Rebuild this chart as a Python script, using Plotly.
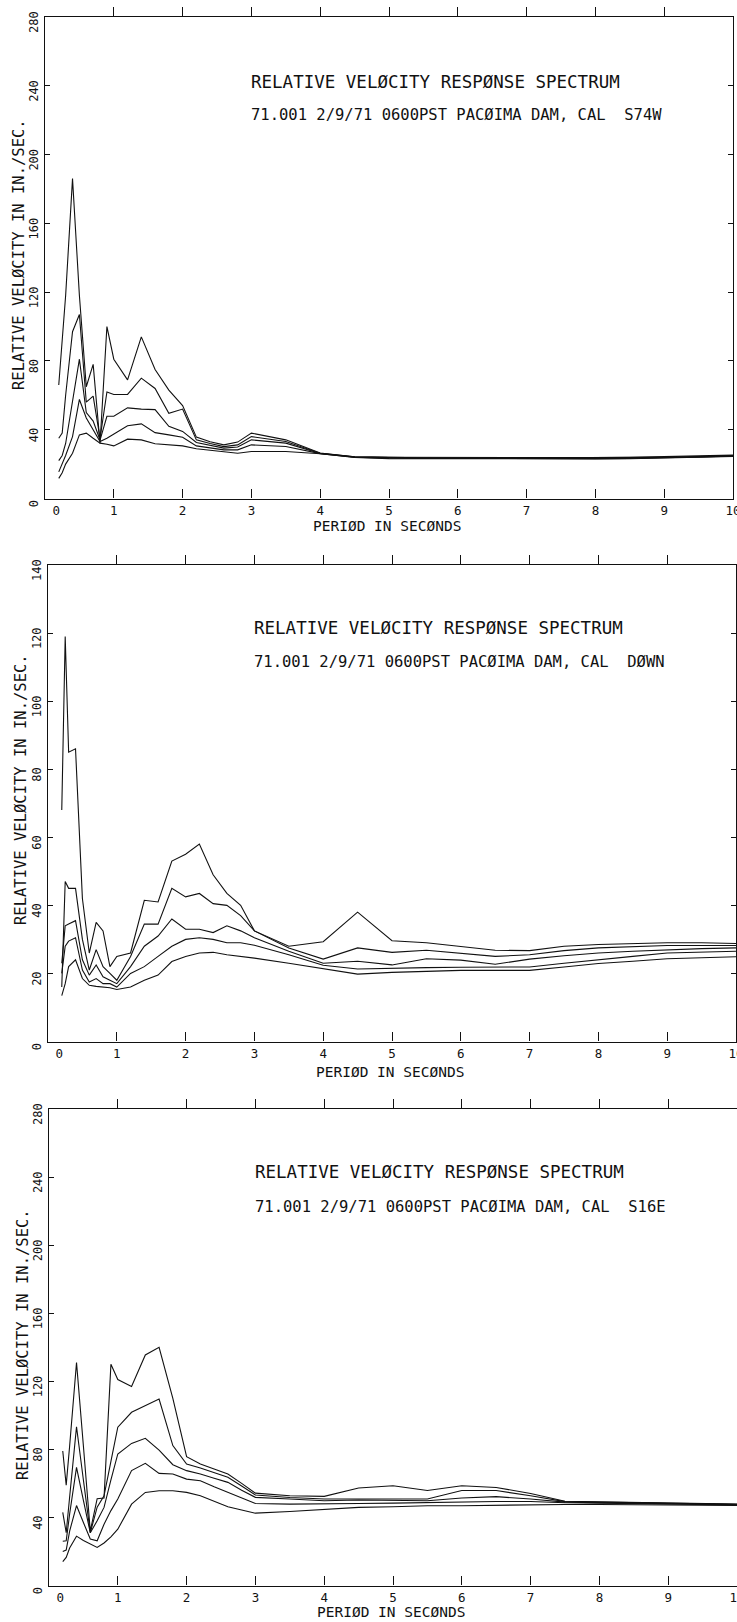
import plotly.graph_objects as go

W, H = 737, 1622

# Oscillator periods (s) shared by every curve
PERIODS = [0.2, 0.25, 0.3, 0.4, 0.5, 0.6, 0.7, 0.8, 0.9, 1.0, 1.2, 1.4, 1.6, 1.8, 2.0,
           2.2, 2.4, 2.6, 2.8, 3.0, 3.5, 4.0, 4.5, 5.0, 5.5, 6.0, 6.5, 7.0, 7.5, 8.0,
           8.5, 9.0, 9.5, 10.0]
DAMPING = ["0%", "2%", "5%", "10%", "20%"]
X_TICKS = list(range(0, 11))

# S74W component, relative velocity (in/sec)
S74W_0 = [66, 90, 118, 186, 118, 65, 78, 32, 100, 81, 69, 94, 75, 63, 54,
          35.7, 33, 31.2, 32.8, 38, 34.1, 26.5, 24.3, 24.0, 23.9, 23.8, 23.8, 23.8, 23.8, 23.8,
          23.9, 24.2, 24.6, 25.2]
S74W_2 = [35, 38, 60, 97, 107, 56, 59.5, 35, 62, 60.5, 60.5, 70, 64, 49.5, 52,
          34.1, 32, 30.2, 31.2, 36, 33.1, 26.3, 24.2, 23.8, 23.7, 23.6, 23.6, 23.6, 23.6, 23.6,
          23.7, 24.0, 24.4, 25.0]
S74W_5 = [22, 25, 32, 56, 81, 50, 45, 34, 47.8, 47.8, 52.7, 52, 51.7, 42, 39,
          32.6, 31, 29.3, 29.9, 34.1, 32.2, 26.2, 24.1, 23.6, 23.5, 23.4, 23.4, 23.4, 23.4, 23.4,
          23.5, 23.8, 24.2, 24.8]
S74W_10 = [15.5, 20, 25, 36, 57.6, 46.8, 40, 33.1, 35, 37.6, 42.3, 43.4, 38.3, 37, 35.6,
           30.6, 29.5, 28.3, 28.3, 31.2, 30.2, 26.1, 24.0, 23.4, 23.3, 23.2, 23.2, 23.2, 23.2, 23.2,
           23.3, 23.6, 24.0, 24.6]
S74W_20 = [11.7, 15, 20, 26.3, 37, 38, 35, 32.2, 31.5, 30.6, 34.5, 34.1, 31.8, 31.3, 30.6,
           28.9, 28, 27, 26.3, 27.3, 27.3, 26, 23.9, 23.2, 23.1, 23.0, 23.0, 23.0, 23.0, 23.0,
           23.1, 23.4, 23.8, 24.4]

# Vertical component
DOWN_0 = [68, 119, 85, 86, 42, 26, 35, 32.5, 22, 25, 26, 41.5, 41, 53, 55,
          58, 49, 43.5, 40, 32.5, 28, 29.3, 38, 29.6, 29, 28, 26.8, 26.7, 28, 28.5,
          28.8, 29, 29, 28.8]
DOWN_2 = [16, 47, 45, 45, 30, 21, 27, 22, 20, 18, 25, 34.5, 34.5, 45, 42.5,
          43.5, 40.5, 40, 37, 32.5, 27.5, 24.2, 27.5, 26.2, 26.8, 26, 25, 25.5, 26.7, 27.5,
          27.9, 28.2, 28.2, 28.2]
DOWN_5 = [23, 34, 34.5, 35.5, 24, 19.5, 22.5, 19, 18, 17, 22, 28, 31, 36, 33,
          33, 32, 34, 32.5, 30.5, 26.5, 23, 23.6, 22.5, 24.3, 23.9, 22.7, 24.2, 25.2, 26,
          26.5, 27, 27.3, 27.5]
DOWN_10 = [20, 28, 29.5, 30.5, 21, 17.5, 18.5, 17, 17, 16, 20, 22, 25, 28, 30,
           30.5, 30, 29, 29, 28.3, 25.5, 22.4, 21.3, 21.6, 21.7, 21.8, 21.8, 21.9, 23, 24.1,
           25, 26, 26.3, 26.5]
DOWN_20 = [13.5, 17, 22, 24, 18.5, 16.5, 16.2, 16, 15.8, 15.3, 16, 18, 19.5, 23.5, 25,
           26, 26.2, 25.5, 25, 24.5, 23, 21.3, 19.8, 20.3, 20.6, 20.9, 20.9, 20.9, 21.9, 22.9,
           23.6, 24.3, 24.6, 24.9]

# S16E component
S16E_0 = [79, 59, 82, 131, 82, 32, 51, 51.4, 130, 121, 117, 135.5, 140, 110, 75.7,
          71.4, 68.5, 65.5, 60, 54.3, 52.7, 52.4, 57.3, 58.6, 55.8, 58.6, 57.6, 54.1, 49.5, 49.2,
          48.8, 48.5, 48.2, 47.9]
S16E_2 = [43, 31, 52, 93.3, 62, 31, 46, 52.7, 73, 93, 101.8, 105.7, 109.6, 82.2, 71.4,
          69, 66.3, 63.6, 58.5, 53.2, 51.7, 50.8, 50.8, 50.8, 50.8, 55.8, 55.8, 52.7, 49.3, 49,
          48.6, 48.3, 48.0, 47.7]
S16E_5 = [26, 26.3, 42, 69.4, 50, 31, 38, 45.9, 62, 77.3, 83.5, 86.5, 79.6, 71, 67.5,
          65.5, 63, 60.6, 56, 51.8, 50.8, 49.8, 50.2, 50.2, 49.8, 51.4, 52.2, 50.8, 49, 48.7,
          48.4, 48.1, 47.8, 47.5]
S16E_10 = [20, 20.8, 32, 47, 37, 27.3, 26.3, 36, 44, 50.8, 67.5, 71.8, 65.9, 65.5, 62.5,
           61.6, 58, 54.7, 51.5, 48.2, 47.8, 47.8, 48.2, 48.4, 48.8, 48.8, 49.4, 49.4, 48.6, 48.4,
           48.1, 47.9, 47.6, 47.4]
S16E_20 = [14, 16.5, 22, 29, 26.5, 24.3, 22.4, 25, 28.6, 33.1, 47.8, 54.7, 55.7, 55.7, 54.7,
           52.7, 49.5, 46.3, 44.4, 42.5, 43.5, 44.9, 45.9, 46.3, 46.9, 46.9, 47.2, 47.4, 47.6, 47.6,
           47.4, 47.3, 47.2, 47.0]

TITLE = "RELATIVE VELØCITY RESPØNSE SPECTRUM"
HEADER = "71.001 2/9/71 0600PST PACØIMA DAM, CAL \u00a0"
Y_TITLE = "RELATIVE VELØCITY IN IN./SEC."
X_TITLE = "PERIØD IN SECØNDS"

panels = [
    dict(comp="S74W", series=[S74W_0, S74W_2, S74W_5, S74W_10, S74W_20],
         ymax=280, ystep=40, xpx=(45, 733), ypx=(17, 498.5),
         title_y=82, header_y=115, title_x=249, ytitle=(19, 255), xtitle_y=526),
    dict(comp="DØWN", series=[DOWN_0, DOWN_2, DOWN_5, DOWN_10, DOWN_20],
         ymax=140, ystep=20, xpx=(48, 736), ypx=(565, 1041.5),
         title_y=628, header_y=662, title_x=252, ytitle=(21, 790), xtitle_y=1072),
    dict(comp="S16E", series=[S16E_0, S16E_2, S16E_5, S16E_10, S16E_20],
         ymax=280, ystep=40, xpx=(49, 737), ypx=(1109, 1585.5),
         title_y=1172, header_y=1207, title_x=253, ytitle=(23, 1345), xtitle_y=1612),
]

FONT = "DejaVu Sans Mono"
INK = "#111111"

fig = go.Figure()
layout = dict(width=W, height=H,
              margin=dict(l=0, r=0, t=0, b=0, pad=0, autoexpand=False),
              paper_bgcolor="white", plot_bgcolor="white", showlegend=False,
              font=dict(family=FONT, color=INK))
annotations = []

for i, p in enumerate(panels, start=1):
    xa, ya, xt = f"x{i}", f"y{i}", f"x{i + 3}"
    for damp, vals in zip(DAMPING, p["series"]):
        fig.add_trace(go.Scatter(x=PERIODS, y=vals, mode="lines", name=damp,
                                 xaxis=xa, yaxis=ya, cliponaxis=True,
                                 line=dict(color=INK, width=1.1)))
    # carrier for the outward tick marks along the top edge
    fig.add_trace(go.Scatter(x=[], y=[], xaxis=xt, yaxis=ya, hoverinfo="skip"))

    x0, x1 = p["xpx"]
    ytop, ybot = p["ypx"]
    xdom = [x0 / W, min(x1 / W, 1.0)]
    ydom = [1 - ybot / H, 1 - ytop / H]
    xrange = [0, 10 * min(1.0, (W - x0) / (x1 - x0))]

    yticks = list(range(0, p["ymax"] + 1, p["ystep"]))
    sfx = "" if i == 1 else str(i)
    layout[f"xaxis{sfx}"] = dict(
        domain=xdom, anchor=ya, range=xrange, tickvals=X_TICKS,
        ticktext=["\u00a0\u00a0\u00a00"] + [str(v) for v in X_TICKS[1:]],
        ticks="inside", ticklen=9, tickwidth=1.2, tickcolor=INK,
        showline=True, linecolor=INK, linewidth=1.4, mirror=True,
        showgrid=False, zeroline=False, ticklabelstandoff=0,
        ticklabeloverflow="allow", automargin=False,
        tickfont=dict(family=FONT, size=12.5, color=INK))
    layout[f"yaxis{sfx}"] = dict(
        domain=ydom, anchor=xa, range=[0, p["ymax"]], tickvals=yticks,
        ticktext=[str(v) for v in yticks], tickangle=-90,
        ticks="inside", ticklen=5, tickwidth=1.2, tickcolor=INK,
        showline=True, linecolor=INK, linewidth=1.4,
        mirror="ticks" if i < 3 else False,
        showgrid=False, zeroline=False, ticklabelshift=7, ticklabelstandoff=1,
        ticklabeloverflow="allow", automargin=False,
        tickfont=dict(family=FONT, size=12, color=INK))
    layout[f"xaxis{i + 3}"] = dict(
        overlaying=xa, anchor=ya, side="top", range=xrange,
        tickvals=X_TICKS[1:-1], ticks="outside", ticklen=9, tickwidth=1.2,
        tickcolor=INK, showticklabels=False, showline=False,
        showgrid=False, zeroline=False, automargin=False)

    annotations += [
        dict(text=TITLE, x=p["title_x"] / W, y=1 - p["title_y"] / H, xref="paper",
             yref="paper", xanchor="left", yanchor="middle", showarrow=False,
             font=dict(family=FONT, size=17.5, color=INK)),
        dict(text=HEADER + p["comp"], x=p["title_x"] / W, y=1 - p["header_y"] / H,
             xref="paper", yref="paper", xanchor="left", yanchor="middle",
             showarrow=False, font=dict(family=FONT, size=15.5, color=INK)),
        dict(text=Y_TITLE, x=p["ytitle"][0] / W, y=1 - p["ytitle"][1] / H,
             xref="paper", yref="paper", xanchor="center", yanchor="middle",
             textangle=-90, showarrow=False,
             font=dict(family=FONT, size=15.5, color=INK)),
        dict(text=X_TITLE, x=(x0 + min(x1, W)) / 2 / W - 0.003, y=1 - p["xtitle_y"] / H,
             xref="paper", yref="paper", xanchor="center", yanchor="middle",
             showarrow=False, font=dict(family=FONT, size=14.5, color=INK)),
    ]

layout["annotations"] = annotations
fig.update_layout(**layout)
fig.write_html("out.html")
